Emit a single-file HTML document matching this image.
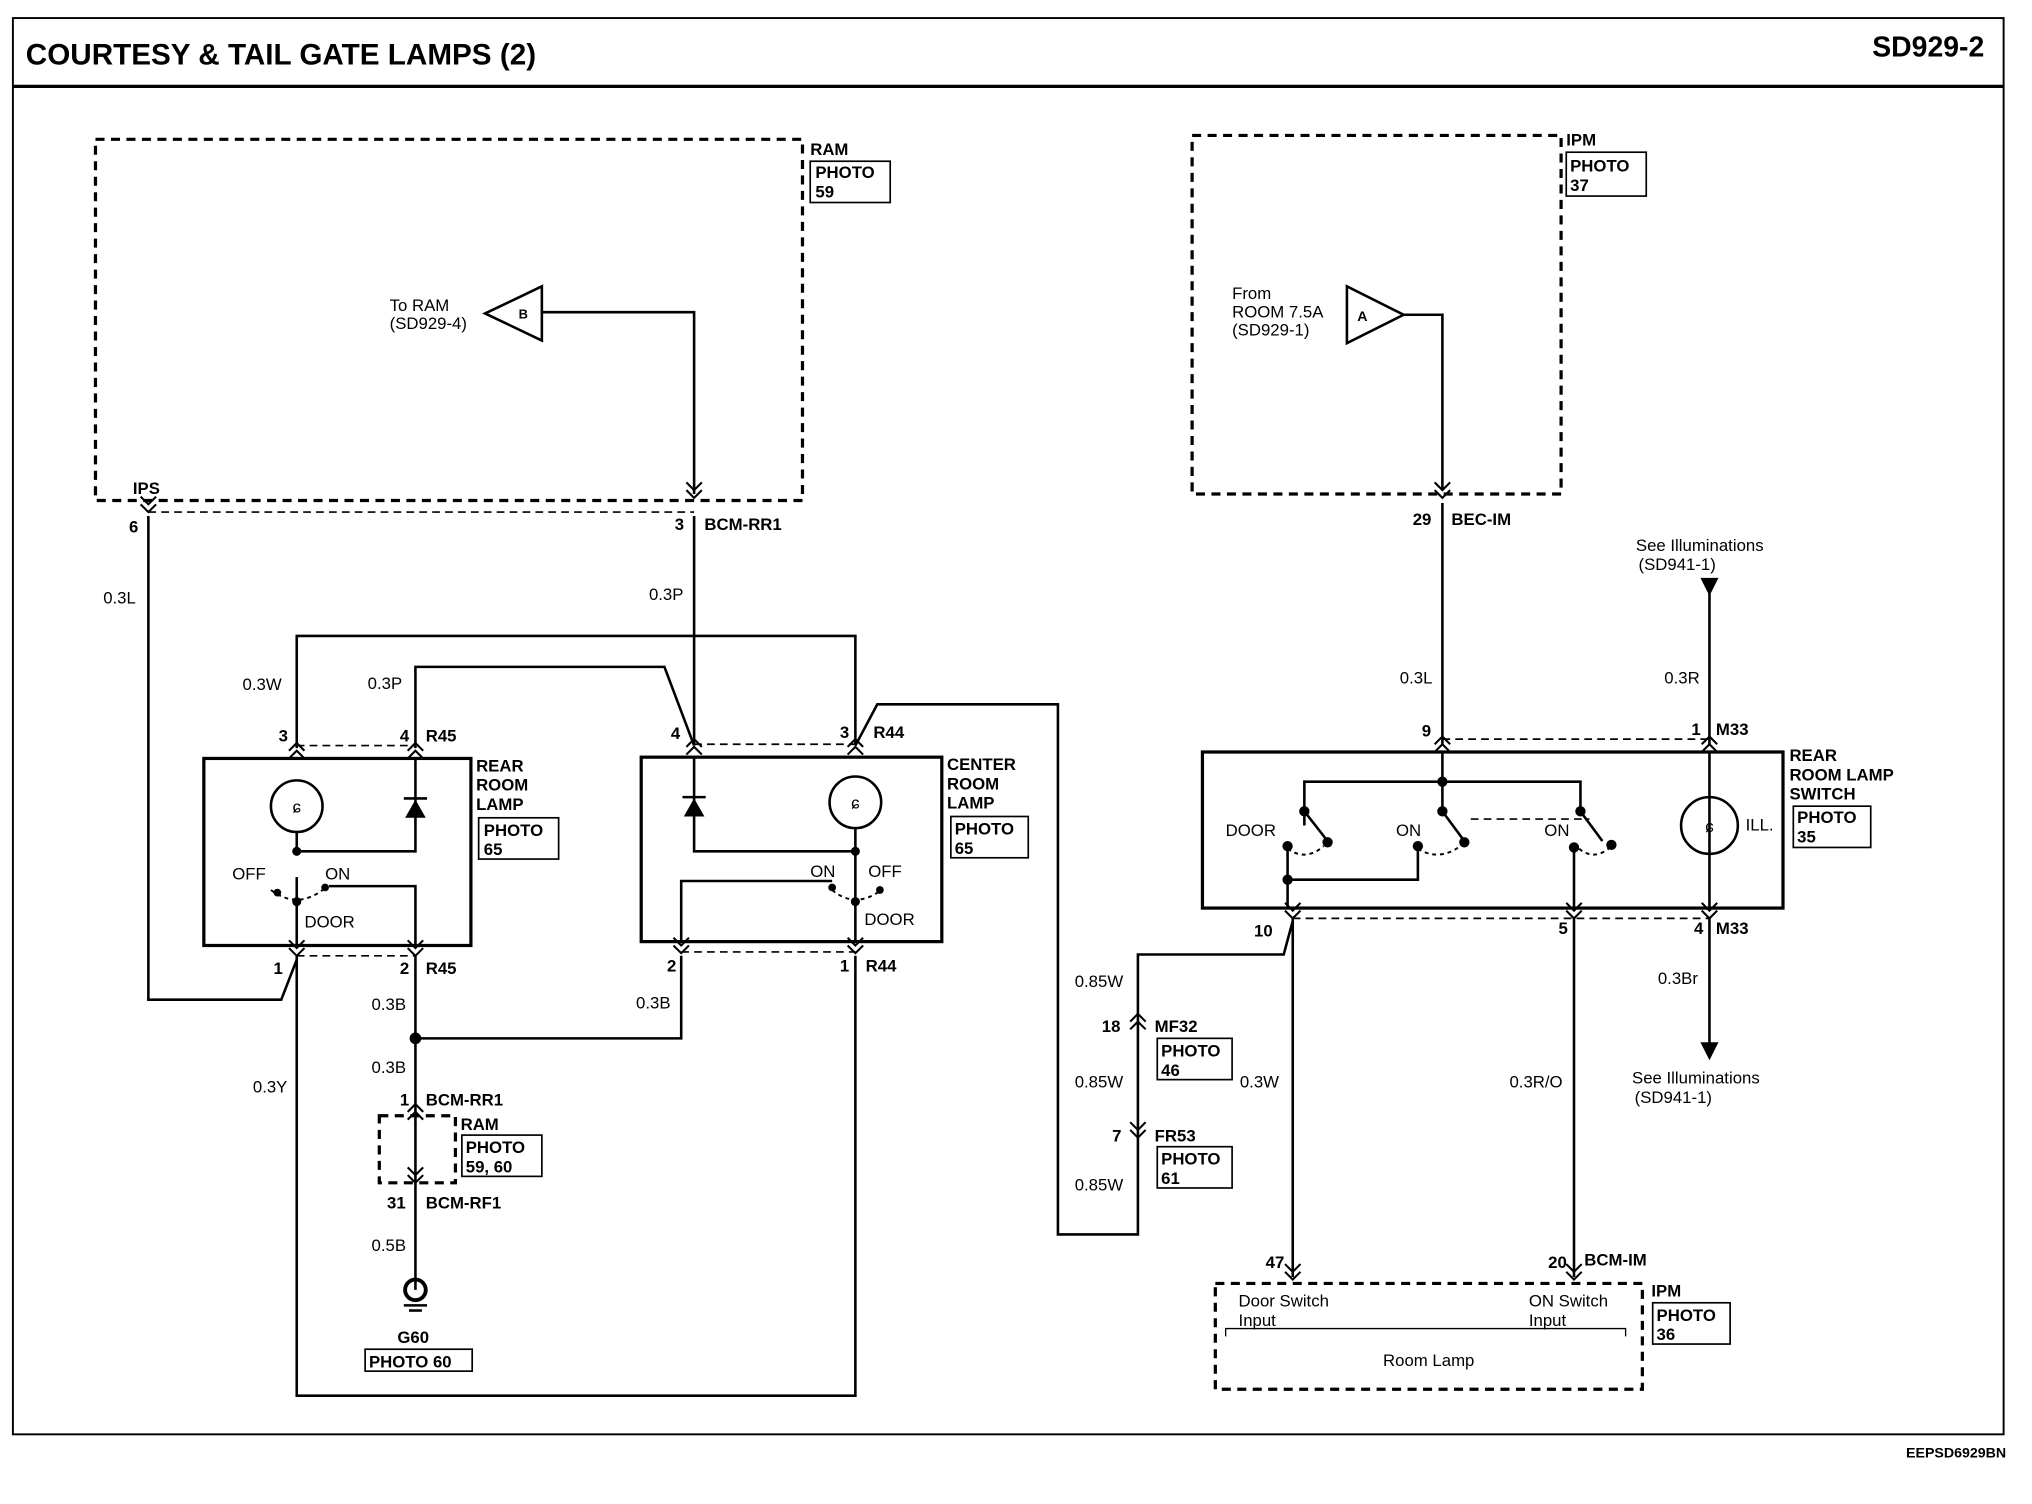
<!DOCTYPE html>
<html><head><style>
html,body{margin:0;padding:0;background:#fff}
svg{display:block}
text{font-family:"Liberation Sans",Arial,sans-serif;font-weight:bold;fill:#000}
.t{font-size:13px}
.n{font-weight:normal;font-size:13px}
</style></head><body>
<svg width="2032" height="1504" viewBox="0 0 1575 1166" preserveAspectRatio="none" xmlns="http://www.w3.org/2000/svg">
<defs>
<g id="cd"><path d="M-6,-6 L0,0 L6,-6 M-6,0 L0,6 L6,0" fill="none" stroke="#000" stroke-width="1.6"/></g>
<g id="cu"><path d="M-6,6 L0,0 L6,6 M-6,12 L0,6 L6,12" fill="none" stroke="#000" stroke-width="1.6"/></g>
</defs>
<rect x="10" y="14" width="1543" height="1098" fill="none" stroke="#000" stroke-width="1.5"/>
<line x1="10" y1="67" x2="1553" y2="67" stroke="#000" stroke-width="2.5"/>
<text x="20" y="50" style="font-size:23px">COURTESY &amp; TAIL GATE LAMPS (2)</text>
<text x="1538" y="44" text-anchor="end" style="font-size:22px">SD929-2</text>
<text x="1555" y="1130" text-anchor="end" style="font-size:11px">EEPSD6929BN</text>

<g fill="none" stroke="#000" stroke-width="2">
<!-- dashed modules -->
<rect x="74" y="108" width="548" height="280" stroke-dasharray="7,5" stroke-width="2.5"/>
<rect x="924" y="105" width="286" height="278" stroke-dasharray="7,5" stroke-width="2.5"/>
<rect x="294" y="865" width="59" height="52" stroke-dasharray="7,5" stroke-width="2.5"/>
<rect x="942" y="995" width="331" height="82" stroke-dasharray="7,5" stroke-width="2.5"/>
<g stroke-dasharray="6,4" stroke-width="1.3">
<line x1="115" y1="397" x2="538" y2="397"/>
<line x1="230" y1="578" x2="322" y2="578"/>
<line x1="538" y1="577" x2="663" y2="577"/>
<line x1="230" y1="741" x2="322" y2="741"/>
<line x1="528" y1="738" x2="663" y2="738"/>
<line x1="1118" y1="573" x2="1325" y2="573"/>
<line x1="1002" y1="712" x2="1325" y2="712"/>
<line x1="1140" y1="635" x2="1232" y2="635"/>
</g>
<!-- triangles -->
<polygon points="376,243 420,222 420,264"/>
<polygon points="1044,222 1044,266 1088,244"/>
<!-- wires -->
<polyline points="420,242 538,242 538,383"/>
<polyline points="115,400 115,775 218,775 230,744"/>
<line x1="538" y1="400" x2="538" y2="578"/>
<polyline points="230,580 230,493 663,493 663,578"/>
<polyline points="322,580 322,517 515,517 538,578"/>
<polyline points="663,578 680,546 820,546 820,957 882,957 882,740 995,740 1002,714"/>
<polyline points="230,741 230,1082 663,1082 663,741"/>
<polyline points="322,741 322,805 528,805 528,741"/>
<line x1="322" y1="805" x2="322" y2="1000"/>
<polyline points="1088,244 1118,244 1118,380"/>
<line x1="1118" y1="390" x2="1118" y2="577"/>
<line x1="1325" y1="455" x2="1325" y2="577"/>
<line x1="1325" y1="712" x2="1325" y2="810"/>
<line x1="1002" y1="712" x2="1002" y2="990"/>
<line x1="1220" y1="712" x2="1220" y2="990"/>
<!-- component boxes -->
<rect x="158" y="588" width="207" height="145" stroke-width="2.5"/>
<rect x="497" y="587" width="233" height="143" stroke-width="2.5"/>
<rect x="932" y="583" width="450" height="121" stroke-width="2.5"/>
<!-- rear room lamp internals -->
<circle cx="230" cy="625" r="20"/>
<polyline points="230,645 230,660 322,660 322,588"/>
<polyline points="230,680 230,733"/>
<polyline points="255,687 322,687 322,733"/>
<path d="M210,690 Q230,705 250,690" stroke-dasharray="3,3" stroke-width="1.5"/>
<!-- center lamp internals -->
<circle cx="663" cy="622" r="20"/>
<polyline points="663,642 663,730"/>
<polyline points="538,588 538,660 663,660"/>
<polyline points="645,683 528,683 528,730"/>
<path d="M645,690 Q663,705 683,690" stroke-dasharray="3,3" stroke-width="1.5"/>
<!-- switch internals -->
<line x1="1118" y1="583" x2="1118" y2="605"/>
<polyline points="1011,640 1011,606 1225,606 1225,629"/>
<line x1="1011" y1="629" x2="1029" y2="652"/>
<line x1="1118" y1="629" x2="1135" y2="652"/>
<line x1="1225" y1="629" x2="1242" y2="652"/>
<line x1="1118" y1="605" x2="1118" y2="629"/>
<polyline points="998,656 998,705"/>
<polyline points="998,682 1099,682 1099,657"/>
<line x1="1220" y1="657" x2="1220" y2="705"/>
<path d="M998,658 Q1012,668 1026,656 M1099,658 Q1115,668 1132,656 M1224,658 Q1236,668 1249,656" stroke-dasharray="3,3" stroke-width="1.5"/>
<circle cx="1325" cy="640" r="22"/>
<line x1="1325" y1="583" x2="1325" y2="705"/>
<!-- photo boxes -->
<g stroke-width="1.3">
<rect x="628" y="125" width="62" height="32"/>
<rect x="1214" y="118" width="62" height="34"/>
<rect x="371" y="634" width="62" height="32"/>
<rect x="737" y="633" width="60" height="32"/>
<rect x="1390" y="625" width="60" height="32"/>
<rect x="358" y="880" width="62" height="32"/>
<rect x="897" y="805" width="58" height="32"/>
<rect x="897" y="889" width="58" height="32"/>
<rect x="283" y="1046" width="83" height="17"/>
<rect x="1281" y="1010" width="60" height="32"/>
</g>
<path d="M950,1036 L950,1030 L1260,1030 L1260,1036" stroke-width="1"/>
</g>
<!-- diodes -->
<polygon points="314,634 330,634 322,620" fill="#000"/>
<line x1="313" y1="619" x2="331" y2="619" stroke="#000" stroke-width="2"/>
<polygon points="530,633 546,633 538,619" fill="#000"/>
<line x1="529" y1="618" x2="547" y2="618" stroke="#000" stroke-width="2"/>
<text x="230" y="630" text-anchor="middle" class="n">ɕ</text>
<text x="663" y="627" text-anchor="middle" class="n">ɕ</text>
<text x="1325" y="645" text-anchor="middle" class="n">ɕ</text>
<!-- dots -->
<g fill="#000">
<circle cx="322" cy="805" r="4.5"/><circle cx="230" cy="660" r="3.5"/><circle cx="663" cy="660" r="3.5"/>
<circle cx="230" cy="699" r="3.5"/><circle cx="663" cy="699" r="3.5"/><circle cx="215" cy="692" r="3"/><circle cx="252" cy="688" r="3"/>
<circle cx="645" cy="688" r="3"/><circle cx="682" cy="690" r="3"/>
<circle cx="1118" cy="606" r="4"/><circle cx="1011" cy="629" r="4"/><circle cx="1118" cy="629" r="4"/><circle cx="1225" cy="629" r="4"/>
<circle cx="1029" cy="653" r="4"/><circle cx="1135" cy="653" r="4"/><circle cx="1249" cy="655" r="4"/>
<circle cx="998" cy="656" r="4"/><circle cx="1099" cy="656" r="4"/><circle cx="1220" cy="657" r="4"/><circle cx="998" cy="682" r="4"/>
<polygon points="1318,448 1332,448 1325,462"/>
<polygon points="1318,808 1332,808 1325,822"/>
</g>
<!-- connectors -->
<use href="#cd" x="538" y="380"/><use href="#cd" x="115" y="391"/><use href="#cd" x="1118" y="380"/>
<use href="#cu" x="230" y="576"/><use href="#cu" x="322" y="576"/><use href="#cu" x="538" y="573"/><use href="#cu" x="663" y="573"/>
<use href="#cu" x="1118" y="571"/><use href="#cu" x="1325" y="571"/>
<use href="#cd" x="230" y="735"/><use href="#cd" x="322" y="735"/><use href="#cd" x="528" y="733"/><use href="#cd" x="663" y="733"/>
<use href="#cd" x="1002" y="706"/><use href="#cd" x="1220" y="706"/><use href="#cd" x="1325" y="706"/>
<use href="#cu" x="322" y="856"/><use href="#cd" x="322" y="911"/>
<use href="#cu" x="882" y="786"/><use href="#cd" x="882" y="876"/>
<use href="#cd" x="1002" y="986"/><use href="#cd" x="1220" y="986"/>
<!-- ground -->
<circle cx="322" cy="1000" r="8" fill="none" stroke="#000" stroke-width="3"/>
<line x1="313" y1="1012" x2="331" y2="1012" stroke="#000" stroke-width="2"/>
<line x1="317" y1="1016" x2="327" y2="1016" stroke="#000" stroke-width="2"/>
<!-- labels -->
<g class="t">
<text x="628" y="120">RAM</text><text x="632" y="138">PHOTO</text><text x="632" y="153">59</text>
<text x="302" y="241" class="n">To RAM</text><text x="302" y="255" class="n">(SD929-4)</text>
<text x="402" y="247" style="font-size:10px">B</text>
<text x="1052" y="249" style="font-size:11px">A</text>
<text x="955" y="232" class="n">From</text><text x="955" y="246" class="n">ROOM 7.5A</text><text x="955" y="260" class="n">(SD929-1)</text>
<text x="1214" y="113">IPM</text><text x="1217" y="133">PHOTO</text><text x="1217" y="148">37</text>
<text x="103" y="383">IPS</text><text x="100" y="413">6</text><text x="523" y="411">3</text><text x="546" y="411">BCM-RR1</text>
<text x="80" y="468" class="n">0.3L</text><text x="503" y="465" class="n">0.3P</text>
<text x="188" y="535" class="n">0.3W</text><text x="285" y="534" class="n">0.3P</text>
<text x="216" y="575">3</text><text x="310" y="575">4</text><text x="330" y="575">R45</text>
<text x="520" y="573">4</text><text x="651" y="572">3</text><text x="677" y="572">R44</text>
<text x="369" y="598">REAR</text><text x="369" y="613">ROOM</text><text x="369" y="628">LAMP</text>
<text x="375" y="648">PHOTO</text><text x="375" y="663">65</text>
<text x="734" y="597">CENTER</text><text x="734" y="612">ROOM</text><text x="734" y="627">LAMP</text>
<text x="740" y="647">PHOTO</text><text x="740" y="662">65</text>
<text x="180" y="682" class="n">OFF</text><text x="252" y="682" class="n">ON</text><text x="236" y="719" class="n">DOOR</text>
<text x="628" y="680" class="n">ON</text><text x="673" y="680" class="n">OFF</text><text x="670" y="717" class="n">DOOR</text>
<text x="212" y="755">1</text><text x="310" y="755">2</text><text x="330" y="755">R45</text>
<text x="517" y="753">2</text><text x="651" y="753">1</text><text x="671" y="753">R44</text>
<text x="288" y="783" class="n">0.3B</text><text x="493" y="782" class="n">0.3B</text><text x="288" y="832" class="n">0.3B</text>
<text x="196" y="847" class="n">0.3Y</text>
<text x="310" y="857">1</text><text x="330" y="857">BCM-RR1</text>
<text x="357" y="876">RAM</text><text x="361" y="894">PHOTO</text><text x="361" y="909">59, 60</text>
<text x="300" y="937">31</text><text x="330" y="937">BCM-RF1</text>
<text x="288" y="970" class="n">0.5B</text>
<text x="308" y="1041">G60</text><text x="286" y="1060">PHOTO 60</text>
<text x="833" y="765" class="n">0.85W</text><text x="833" y="843" class="n">0.85W</text><text x="833" y="923" class="n">0.85W</text>
<text x="854" y="800">18</text><text x="895" y="800">MF32</text><text x="900" y="819">PHOTO</text><text x="900" y="834">46</text>
<text x="862" y="885">7</text><text x="895" y="885">FR53</text><text x="900" y="903">PHOTO</text><text x="900" y="918">61</text>
<text x="1095" y="407">29</text><text x="1125" y="407">BEC-IM</text>
<text x="1085" y="530" class="n">0.3L</text><text x="1290" y="530" class="n">0.3R</text>
<text x="1268" y="427" class="n">See Illuminations</text><text x="1270" y="442" class="n">(SD941-1)</text>
<text x="1102" y="571">9</text><text x="1311" y="570">1</text><text x="1330" y="570">M33</text>
<text x="1387" y="590">REAR</text><text x="1387" y="605">ROOM LAMP</text><text x="1387" y="620">SWITCH</text>
<text x="1393" y="638">PHOTO</text><text x="1393" y="653">35</text>
<text x="950" y="648" class="n">DOOR</text><text x="1082" y="648" class="n">ON</text><text x="1197" y="648" class="n">ON</text><text x="1353" y="644" class="n">ILL.</text>
<text x="972" y="726">10</text><text x="1208" y="724">5</text><text x="1313" y="724">4</text><text x="1330" y="724">M33</text>
<text x="1285" y="763" class="n">0.3Br</text>
<text x="1265" y="840" class="n">See Illuminations</text><text x="1267" y="855" class="n">(SD941-1)</text>
<text x="961" y="843" class="n">0.3W</text><text x="1170" y="843" class="n">0.3R/O</text>
<text x="981" y="983">47</text><text x="1200" y="983">20</text><text x="1228" y="981">BCM-IM</text>
<text x="960" y="1013" class="n">Door Switch</text><text x="960" y="1028" class="n">Input</text>
<text x="1185" y="1013" class="n">ON Switch</text><text x="1185" y="1028" class="n">Input</text>
<text x="1072" y="1059" class="n">Room Lamp</text>
<text x="1280" y="1005">IPM</text><text x="1284" y="1024">PHOTO</text><text x="1284" y="1039">36</text>
</g>
</svg>
</body></html>
